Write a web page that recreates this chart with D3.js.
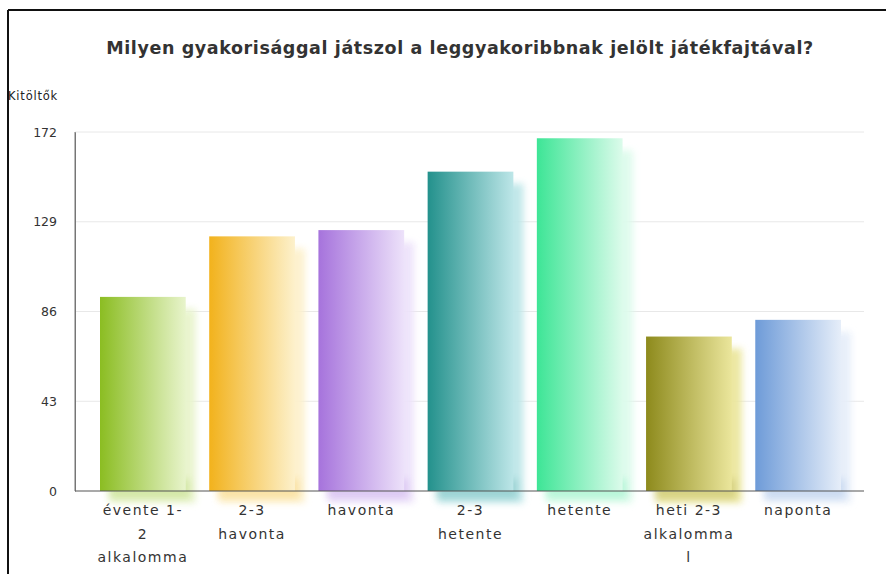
<!DOCTYPE html>
<html><head><meta charset="utf-8">
<script src="https://cdn.jsdelivr.net/npm/d3@7"></script>
<style>body{margin:0;background:#fff;overflow:hidden}</style>
</head><body>
<svg id="c" width="886" height="574"></svg>
<script>
const title = "Milyen gyakorisággal játszol a leggyakoribbnak jelölt játékfajtával?";
const yTitle = "Kitöltők";
const categories = ["évente 1-2 alkalommal", "2-3 havonta", "havonta", "2-3 hetente", "hetente", "heti 2-3 alkalommal", "naponta"];
const labelLines = [["évente 1-", "2", "alkalomma", "l"], ["2-3", "havonta"], ["havonta"], ["2-3", "hetente"], ["hetente"], ["heti 2-3", "alkalomma", "l"], ["naponta"]];
const values = [93, 122, 125, 153, 169, 74, 82];
const yTicks = [0, 43, 86, 129, 172];
const colorsDark = ["#8bbd22", "#f2b21c", "#a673dc", "#23918c", "#3de596", "#8d8a1c", "#6e9bd8"];
const colorsLight = ["#e8f4cc", "#fdf1cc", "#ede2fa", "#bde6e8", "#dcfbeb", "#ebe69c", "#e6eef9"];

const svg = d3.select("#c");
const x = d3.scaleBand().domain(categories).range([100, 841]).paddingInner(0.215).paddingOuter(0);
const y = d3.scaleLinear().domain([0, 172]).range([491, 132]);
const plotL = 75, plotR = 864;

const defs = svg.append("defs");
const blur = defs.append("filter").attr("id", "blur").attr("x", "-30%").attr("y", "-30%").attr("width", "160%").attr("height", "160%");
blur.append("feGaussianBlur").attr("stdDeviation", 3.5);
categories.forEach((c, i) => {
  const g = defs.append("linearGradient").attr("id", "g" + i).attr("x1", 0).attr("x2", 1).attr("y1", 0).attr("y2", 0);
  g.append("stop").attr("offset", 0).attr("stop-color", colorsDark[i]);
  g.append("stop").attr("offset", 1).attr("stop-color", colorsLight[i]);
});

// frame
svg.append("line").attr("x1", 8).attr("x2", 886).attr("y1", 10).attr("y2", 10).attr("stroke", "#111").attr("stroke-width", 2);
svg.append("line").attr("x1", 8).attr("x2", 8).attr("y1", 10).attr("y2", 574).attr("stroke", "#111").attr("stroke-width", 2);

// title
svg.append("text").attr("x", 460).attr("y", 54).attr("text-anchor", "middle")
  .attr("font-family", "DejaVu Sans").attr("font-weight", "bold").attr("font-size", 17.5)
  .attr("letter-spacing", 0.6).attr("fill", "#333").text(title);
svg.append("text").attr("x", 8).attr("y", 100).attr("font-family", "DejaVu Sans").attr("font-size", 11.5)
  .attr("letter-spacing", 0.8).attr("fill", "#222").text(yTitle);

// grid
svg.append("g").selectAll("line").data(yTicks.filter(t => t > 0)).join("line")
  .attr("x1", plotL).attr("x2", plotR).attr("y1", d => y(d)).attr("y2", d => y(d))
  .attr("stroke", "#e8e8e8").attr("stroke-width", 1);

// y axis
const yAxis = svg.append("g").attr("transform", `translate(${plotL},0)`)
  .call(d3.axisLeft(y).tickValues(yTicks).tickSize(0).tickPadding(18));
yAxis.select(".domain").attr("stroke", "#777");
yAxis.selectAll("text").attr("font-family", "DejaVu Sans").attr("font-size", 12.5).attr("fill", "#333");

// shadows
svg.append("g").selectAll("rect").data(values).join("rect")
  .attr("x", (d, i) => x(categories[i]) + 10).attr("y", d => y(d) + 12)
  .attr("width", x.bandwidth()).attr("height", d => y(0) - y(d) + 0)
  .attr("fill", (d, i) => colorsLight[i]).attr("opacity", 0.95).attr("filter", "url(#blur)");
// glow at base
svg.append("g").selectAll("rect").data(values).join("rect")
  .attr("x", (d, i) => x(categories[i]) + 8).attr("y", y(0) - 12)
  .attr("width", x.bandwidth() - 4).attr("height", 20)
  .attr("fill", (d, i) => colorsDark[i]).attr("opacity", 0.22).attr("filter", "url(#blur)");
// bars
svg.append("g").selectAll("rect").data(values).join("rect")
  .attr("x", (d, i) => x(categories[i])).attr("y", d => y(d))
  .attr("width", x.bandwidth()).attr("height", d => y(0) - y(d))
  .attr("fill", (d, i) => `url(#g${i})`);

// x axis
const xAxis = svg.append("g").attr("transform", `translate(0,${y(0)})`);
xAxis.append("line").attr("x1", plotL).attr("x2", plotR).attr("y1", 0).attr("y2", 0).attr("stroke", "#555").attr("stroke-width", 1.2);
svg.append("line").attr("x1", plotL).attr("x2", plotL).attr("y1", y(172)).attr("y2", y(0)).attr("stroke", "#777");

const lbl = svg.append("g");
categories.forEach((c, i) => {
  const t = lbl.append("text").attr("text-anchor", "middle").attr("font-family", "DejaVu Sans")
    .attr("font-size", 14).attr("letter-spacing", 1.5).attr("fill", "#333");
  labelLines[i].forEach((ln, j) => {
    t.append("tspan").attr("x", x(c) + x.bandwidth() / 2).attr("y", 515 + j * 23.5).text(ln);
  });
});
</script>
</body></html>
